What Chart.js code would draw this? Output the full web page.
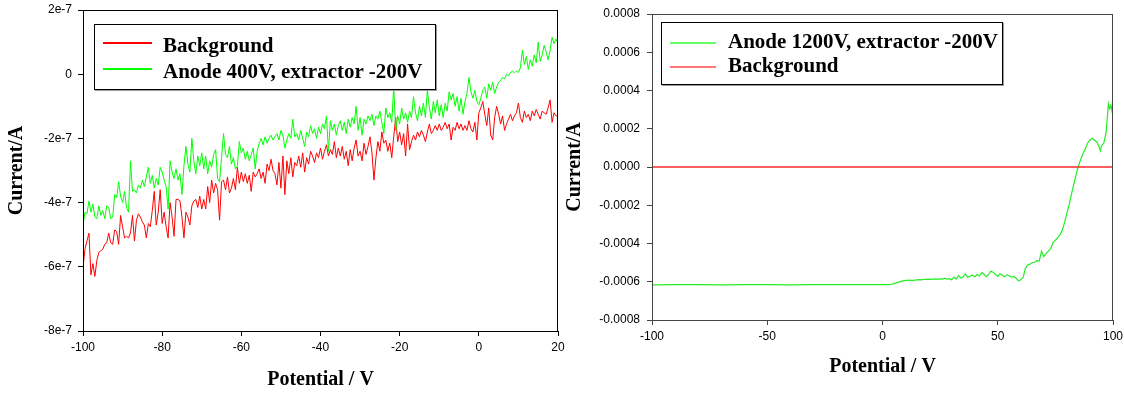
<!DOCTYPE html>
<html>
<head>
<meta charset="utf-8">
<title>Current vs potential</title>
<style>
  body { margin: 0; background: #fff; width: 1124px; height: 394px; position: relative; overflow: hidden; }
  canvas { position: absolute; top: 0; }
  #leftChart { left: 0; }
  #rightChart { left: 556px; }
  .legend { position: absolute; border: 1px solid #000; box-shadow: 1px 1px 0 #999; background: #fff; }
  .legend .swatch { position: absolute; height: 2px; }
  .legend .label { position: absolute; font: bold 21px "Liberation Serif", "Times New Roman", serif; line-height: 24px; white-space: nowrap; color: #000; }
</style>
</head>
<body>
<canvas id="leftChart" width="570" height="394"></canvas>
<canvas id="rightChart" width="568" height="394"></canvas>

<div class="legend" style="left:94px; top:24px; width:340px; height:64px;">
  <div class="swatch" style="left:8px; top:17px; width:49px; background-color:rgb(255,0,0);"></div>
  <div class="label" style="left:68px; top:8px;">Background</div>
  <div class="swatch" style="left:8px; top:43px; width:49px; background-color:rgb(0,255,0);"></div>
  <div class="label" style="left:68px; top:34px;">Anode 400V, extractor -200V</div>
</div>

<div class="legend" style="left:661px; top:22px; width:340px; height:61px;">
  <div class="swatch" style="left:8px; top:19px; width:46px; background-color:#66ff66;"></div>
  <div class="label" style="left:66px; top:6px;">Anode 1200V, extractor -200V</div>
  <div class="swatch" style="left:8px; top:43px; width:46px; background-color:#ff7777;"></div>
  <div class="label" style="left:66px; top:30px;">Background</div>
</div>

<script src="https://cdn.jsdelivr.net/npm/chart.js"></script>
<script>
// left panel: sweep in 0.5 V steps, currents in units of 1e-7 A
const potential400 = [
  -100,-99.5,-99,-98.5,-98,-97.5,-97,-96.5,-96,-95.5,
  -95,-94.5,-94,-93.5,-93,-92.5,-92,-91.5,-91,-90.5,
  -90,-89.5,-89,-88.5,-88,-87.5,-87,-86.5,-86,-85.5,
  -85,-84.5,-84,-83.5,-83,-82.5,-82,-81.5,-81,-80.5,
  -80,-79.5,-79,-78.5,-78,-77.5,-77,-76.5,-76,-75.5,
  -75,-74.5,-74,-73.5,-73,-72.5,-72,-71.5,-71,-70.5,
  -70,-69.5,-69,-68.5,-68,-67.5,-67,-66.5,-66,-65.5,
  -65,-64.5,-64,-63.5,-63,-62.5,-62,-61.5,-61,-60.5,
  -60,-59.5,-59,-58.5,-58,-57.5,-57,-56.5,-56,-55.5,
  -55,-54.5,-54,-53.5,-53,-52.5,-52,-51.5,-51,-50.5,
  -50,-49.5,-49,-48.5,-48,-47.5,-47,-46.5,-46,-45.5,
  -45,-44.5,-44,-43.5,-43,-42.5,-42,-41.5,-41,-40.5,
  -40,-39.5,-39,-38.5,-38,-37.5,-37,-36.5,-36,-35.5,
  -35,-34.5,-34,-33.5,-33,-32.5,-32,-31.5,-31,-30.5,
  -30,-29.5,-29,-28.5,-28,-27.5,-27,-26.5,-26,-25.5,
  -25,-24.5,-24,-23.5,-23,-22.5,-22,-21.5,-21,-20.5,
  -20,-19.5,-19,-18.5,-18,-17.5,-17,-16.5,-16,-15.5,
  -15,-14.5,-14,-13.5,-13,-12.5,-12,-11.5,-11,-10.5,
  -10,-9.5,-9,-8.5,-8,-7.5,-7,-6.5,-6,-5.5,
  -5,-4.5,-4,-3.5,-3,-2.5,-2,-1.5,-1,-0.5,
  0,0.5,1,1.5,2,2.5,3,3.5,4,4.5,
  5,5.5,6,6.5,7,7.5,8,8.5,9,9.5,
  10,10.5,11,11.5,12,12.5,13,13.5,14,14.5,
  15,15.5,16,16.5,17,17.5,18,18.5,19,19.5,
  20
];
const background400 = [
  -6.00,-5.45,-5.20,-4.95,-6.25,-5.90,-6.30,-5.80,-5.55,-5.50,
  -5.45,-5.30,-5.25,-4.95,-5.25,-5.30,-4.85,-4.90,-5.30,-4.40,
  -4.75,-5.10,-5.05,-5.10,-4.95,-4.40,-5.20,-4.55,-4.35,-4.45,
  -4.60,-4.70,-5.10,-4.65,-4.75,-4.25,-3.65,-4.70,-4.30,-3.60,
  -4.65,-4.30,-4.75,-5.10,-4.00,-4.45,-5.05,-3.90,-3.90,-3.95,
  -4.45,-5.10,-4.30,-4.45,-4.70,-4.10,-3.95,-3.90,-4.15,-3.80,
  -4.20,-3.90,-4.20,-3.50,-4.00,-3.30,-3.70,-3.40,-3.60,-4.55,
  -3.35,-3.30,-3.60,-3.20,-3.70,-3.55,-3.25,-3.60,-2.90,-3.40,
  -3.05,-3.35,-3.10,-3.40,-3.15,-3.65,-3.05,-3.20,-3.10,-2.95,
  -3.25,-3.05,-3.40,-2.80,-3.00,-2.65,-3.00,-3.10,-3.45,-2.75,
  -3.55,-2.55,-3.75,-2.70,-3.10,-2.60,-3.20,-2.75,-2.85,-2.55,
  -2.90,-2.45,-3.05,-2.60,-2.80,-2.40,-2.55,-2.75,-2.45,-2.60,
  -2.30,-2.65,-2.40,-2.20,-2.55,-2.35,-2.50,-2.10,-2.60,-2.30,
  -2.55,-2.25,-2.65,-2.40,-2.85,-2.35,-2.70,-2.30,-2.05,-2.55,
  -2.40,-2.70,-2.15,-2.50,-2.25,-1.95,-2.45,-3.30,-2.60,-2.10,
  -2.40,-1.80,-2.15,-2.05,-2.40,-2.15,-2.60,-1.95,-1.35,-2.10,
  -1.80,-2.20,-1.85,-2.55,-1.55,-2.35,-2.10,-1.90,-2.05,-1.80,
  -1.95,-1.75,-1.90,-2.10,-1.80,-1.55,-1.85,-1.75,-1.60,-1.75,
  -1.55,-1.75,-1.65,-1.50,-1.70,-1.55,-2.05,-1.65,-1.75,-1.50,
  -1.70,-1.55,-1.75,-1.60,-1.75,-1.45,-1.70,-1.80,-1.50,-2.05,
  -1.20,-1.05,-0.85,-1.25,-1.60,-1.05,-1.90,-2.05,-1.35,-1.00,
  -1.25,-1.55,-1.30,-1.75,-1.55,-1.40,-1.25,-1.45,-1.30,-1.20,
  -0.90,-1.35,-1.50,-1.15,-1.35,-1.25,-1.45,-1.15,-1.30,-1.10,
  -1.25,-1.40,-1.15,-1.20,-1.25,-1.05,-0.80,-1.50,-1.20,-1.30,
  -1.30
];
const anode400 = [
  -4.70,-4.30,-4.35,-3.95,-4.30,-4.05,-4.45,-4.50,-4.10,-4.40,
  -4.25,-4.50,-4.10,-4.15,-4.50,-4.45,-3.75,-3.85,-3.35,-3.80,
  -4.00,-3.65,-4.15,-4.30,-2.70,-3.65,-3.60,-3.70,-3.45,-3.55,
  -3.30,-3.50,-3.20,-2.90,-3.40,-3.15,-3.55,-3.25,-3.45,-2.90,
  -3.05,-3.30,-3.50,-4.20,-2.70,-3.05,-3.25,-2.95,-3.30,-3.10,
  -3.75,-2.85,-2.25,-2.80,-3.05,-2.00,-2.70,-3.10,-2.55,-2.85,
  -2.45,-2.95,-2.55,-3.10,-2.70,-2.90,-2.50,-2.35,-3.25,-3.35,
  -2.60,-1.85,-2.50,-2.60,-2.25,-2.80,-2.60,-2.95,-2.85,-2.10,
  -2.45,-2.30,-2.65,-2.40,-2.70,-2.50,-2.30,-2.95,-2.40,-2.15,
  -2.00,-2.20,-1.95,-2.15,-2.00,-1.90,-2.05,-1.95,-1.85,-2.05,
  -1.75,-1.90,-2.30,-2.05,-1.85,-2.00,-1.40,-1.95,-1.85,-2.05,
  -1.75,-2.00,-2.25,-1.80,-1.95,-1.60,-1.85,-1.70,-2.00,-1.65,
  -1.85,-1.55,-1.70,-1.30,-2.40,-1.45,-1.75,-1.55,-1.90,-1.60,
  -1.45,-1.75,-1.50,-1.85,-1.40,-1.65,-1.35,-1.55,-1.00,-1.75,
  -1.35,-1.90,-1.40,-1.55,-1.30,-1.45,-1.25,-1.60,-1.30,-1.40,
  -1.15,-1.50,-1.85,-1.05,-1.35,-1.20,-1.50,-0.40,-1.75,-1.30,
  -1.55,-1.05,-1.40,-1.20,-1.50,-1.15,-1.35,-0.70,-1.20,-1.45,
  -1.00,-1.30,-0.90,-1.35,-0.50,-1.05,-1.40,-0.85,-1.20,-0.80,
  -1.30,-0.95,-1.35,-0.90,-1.15,-0.55,-0.80,-0.60,-1.00,-0.70,
  -1.15,-0.75,-1.25,-0.85,-0.60,-0.10,-0.55,-0.75,-0.50,-0.85,
  -0.95,-0.75,-0.50,-0.40,-0.75,-0.30,-0.50,-0.25,-0.60,-0.40,
  -0.25,-0.20,-0.10,-0.15,0.00,-0.05,0.05,0.10,0.05,0.10,
  0.05,0.20,0.75,0.30,0.55,0.15,0.45,0.25,0.60,0.35,
  1.00,0.40,0.60,0.90,0.70,0.45,0.75,1.15,0.95,1.10,
  0.95
];

// right panel: currents in units of 1e-4 A
const potential1200 = [
  -100,-90,-80,-70,-60,-50,-40,-30,-20,-10,
  0,2,3,4,5,6,7,8,9,10,
  11,12,13,14,15,16,17,18,19,20,
  21,22,23,24,25,26,27,28,29,30,
  31,32,33,34,35,36,37,38,39,40,
  41,42,43,44,45,46,47,48,49,50,
  51,52,53,54,55,56,57,58,59,60,
  61,62,63,64,65,66,67,68,69,70,
  71,72,73,74,75,76,77,78,79,80,
  81,82,83,84,85,86,87,88,89,90,
  91,92,93,94,94.5,95,96,97,98,98.5,
  99,99.5,100
];
const anode1200 = [
  -6.16,-6.15,-6.15,-6.16,-6.15,-6.15,-6.16,-6.15,-6.15,-6.15,
  -6.15,-6.15,-6.15,-6.13,-6.10,-6.06,-6.02,-5.98,-5.95,-5.93,
  -5.93,-5.92,-5.94,-5.91,-5.90,-5.89,-5.90,-5.87,-5.88,-5.86,
  -5.88,-5.86,-5.85,-5.87,-5.84,-5.86,-5.82,-5.86,-5.84,-5.90,
  -5.76,-5.86,-5.68,-5.80,-5.74,-5.60,-5.78,-5.70,-5.66,-5.74,
  -5.62,-5.70,-5.52,-5.60,-5.74,-5.62,-5.45,-5.50,-5.62,-5.72,
  -5.58,-5.66,-5.74,-5.64,-5.70,-5.76,-5.72,-5.82,-5.95,-5.90,
  -5.78,-5.30,-5.12,-5.08,-5.00,-4.98,-4.90,-4.92,-4.40,-4.68,
  -4.52,-4.40,-4.26,-3.95,-3.82,-3.70,-3.55,-3.30,-2.90,-2.40,
  -1.95,-1.40,-0.90,-0.40,0.05,0.40,0.70,0.95,1.25,1.40,
  1.50,1.40,1.30,1.05,0.85,1.10,1.25,1.80,3.30,3.05,
  3.20,2.95,3.75
];
const backgroundPot1200 = [-100, 100];
const background1200 = [0, 0];

const leftXTicks = [-100, -80, -60, -40, -20, 0, 20];
const leftYTicks = [-8e-7, -6e-7, -4e-7, -2e-7, 0, 2e-7];
const rightXTicks = [-100, -50, 0, 50, 100];
const rightYTicks = [-0.0008, -0.0006, -0.0004, -0.0002, 0, 0.0002, 0.0004, 0.0006, 0.0008];

function pts(xs, ys, unit) {
  return xs.map((x, i) => ({ x: x, y: ys[i] * unit }));
}

const titleFont = { family: '"Liberation Serif", "Times New Roman", serif', size: 20, weight: 'bold' };
const tickFont = { family: '"Liberation Sans", Arial, sans-serif', size: 12 };

// draws the top and right sides of the plot box
const framePlugin = {
  id: 'frame',
  afterDraw(chart, args, opts) {
    const a = chart.chartArea;
    const ctx = chart.ctx;
    ctx.save();
    ctx.strokeStyle = opts.color || '#000';
    ctx.lineWidth = 1;
    ctx.strokeRect(Math.round(a.left) + 0.5, Math.round(a.top) + 0.5,
      Math.round(a.right - a.left) - 1, Math.round(a.bottom - a.top));
    ctx.restore();
  }
};

function axis(ticks, min, max, color, fmt, size, title, titlePad, tickPad) {
  return {
    type: 'linear',
    min: min,
    max: max,
    afterBuildTicks: s => { s.ticks = ticks.map(v => ({ value: v })); },
    afterFit: s => {
      if (s.isHorizontal()) s.height = size; else s.width = size;
      s.paddingLeft = 0; s.paddingRight = 0; s.paddingTop = 0; s.paddingBottom = 0;
    },
    grid: { display: true, drawOnChartArea: false, drawTicks: true, tickLength: 5, color: color },
    border: { display: true, color: color },
    ticks: { font: tickFont, color: '#000', padding: tickPad, maxRotation: 0, autoSkip: false, callback: fmt },
    title: { display: true, text: title, font: titleFont, color: '#000', padding: titlePad }
  };
}

function lineSet(data, color, width) {
  return { data: data, borderColor: color, borderWidth: width, pointRadius: 0, tension: 0, fill: false };
}

new Chart(document.getElementById('leftChart'), {
  type: 'line',
  data: {
    datasets: [
      lineSet(pts(potential400, anode400, 1e-7), '#00ff00', 1),
      lineSet(pts(potential400, background400, 1e-7), '#ff0000', 1)
    ]
  },
  options: {
    responsive: false,
    animation: false,
    devicePixelRatio: 1,
    layout: { padding: { top: 10, right: 12, left: 0, bottom: 0 } },
    plugins: { legend: { display: false }, tooltip: { enabled: false }, frame: { color: '#000' } },
    scales: {
      x: axis(leftXTicks, -100, 20, '#000', v => String(v), 63, 'Potential / V', { top: 0, bottom: 2 }, 4),
      y: axis(leftYTicks, -8e-7, 2e-7, '#000',
        v => v === 0 ? '0' : Math.round(v * 1e7) + 'e-7', 83, 'Current/A', { top: 5, bottom: 0 }, 6)
    }
  },
  plugins: [framePlugin]
});

new Chart(document.getElementById('rightChart'), {
  type: 'line',
  data: {
    datasets: [
      lineSet(pts(backgroundPot1200, background1200, 1), 'rgb(255,40,40)', 1.4),
      lineSet(pts(potential1200, anode1200, 1e-4), '#22ee22', 1.2)
    ]
  },
  options: {
    responsive: false,
    animation: false,
    devicePixelRatio: 1,
    layout: { padding: { top: 14, right: 11, left: 0, bottom: 0 } },
    plugins: { legend: { display: false }, tooltip: { enabled: false }, frame: { color: '#444' } },
    scales: {
      x: axis(rightXTicks, -100, 100, '#444', v => String(v), 74, 'Potential / V', { top: 0, bottom: 15 }, 4),
      y: axis(rightYTicks, -0.0008, 0.0008, '#444',
        v => (Math.round(v * 1e4) / 1e4).toFixed(4), 96, 'Current/A', { top: 7, bottom: 0 }, 7)
    }
  },
  plugins: [framePlugin]
});
</script>
</body>
</html>
